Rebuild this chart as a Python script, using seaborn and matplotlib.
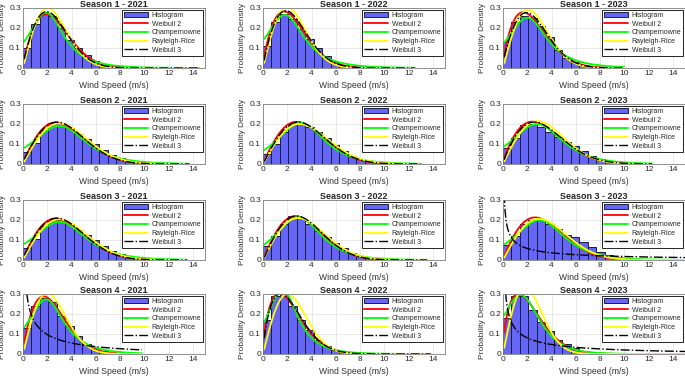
import numpy as np
import pandas as pd
import seaborn as sns
import matplotlib
matplotlib.use("Agg")
import matplotlib.pyplot as plt

sns.set_style("whitegrid")
plt.rcParams['font.family'] = ['Liberation Sans', 'DejaVu Sans']

seasons = [1, 2, 3, 4]
years = [2021, 2022, 2023]
bin_width = 0.7

# histogram bar heights (probability density), bins of 0.7 m/s from 0
hist_s1 = [
    [0.10, 0.22, 0.28, 0.26, 0.20, 0.14, 0.10, 0.063, 0.035, 0.02, 0.012, 0.007, 0.004, 0.003, 0.002, 0.001, 0.001, 0.001, 0.001, 0.001, 0.001],
    [0.108, 0.23, 0.27, 0.245, 0.197, 0.147, 0.10, 0.06, 0.03, 0.015, 0.009, 0.005, 0.003, 0.002, 0.001, 0.001, 0.001, 0.001],
    [0.13, 0.23, 0.26, 0.25, 0.21, 0.155, 0.09, 0.05, 0.03, 0.015, 0.008, 0.004, 0.002, 0.001, 0.001],
]
hist_s2 = [
    [0.06, 0.107, 0.17, 0.205, 0.205, 0.18, 0.15, 0.125, 0.10, 0.07, 0.045, 0.03, 0.018, 0.01, 0.006, 0.004, 0.002, 0.001, 0.001, 0.001],
    [0.05, 0.10, 0.16, 0.197, 0.20, 0.185, 0.16, 0.13, 0.095, 0.065, 0.04, 0.025, 0.013, 0.008, 0.005, 0.003, 0.002, 0.001, 0.001],
    [0.08, 0.13, 0.195, 0.20, 0.185, 0.16, 0.135, 0.11, 0.09, 0.065, 0.04, 0.025, 0.015, 0.008, 0.005, 0.003, 0.002, 0.001],
]
hist_s3 = [
    [0.06, 0.105, 0.17, 0.20, 0.20, 0.18, 0.15, 0.125, 0.10, 0.07, 0.045, 0.03, 0.018, 0.01, 0.006, 0.004, 0.002, 0.001, 0.001, 0.001],
    [0.07, 0.12, 0.18, 0.22, 0.21, 0.18, 0.145, 0.115, 0.085, 0.06, 0.035, 0.022, 0.012, 0.007, 0.004, 0.002, 0.001, 0.001, 0.001, 0.001],
    [0.075, 0.12, 0.18, 0.20, 0.20, 0.18, 0.155, 0.125, 0.115, 0.09, 0.065, 0.04, 0.025, 0.015, 0.008, 0.005, 0.003, 0.002, 0.001, 0.001, 0.001, 0.001],
]
hist_s4 = [
    [0.13, 0.24, 0.28, 0.26, 0.19, 0.14, 0.09, 0.05, 0.03, 0.015, 0.008, 0.004, 0.002, 0.001],
    [0.17, 0.29, 0.30, 0.24, 0.17, 0.12, 0.07, 0.04, 0.02, 0.01, 0.005, 0.003, 0.002, 0.001, 0.001, 0.001, 0.001, 0.001, 0.001, 0.001],
    [0.18, 0.29, 0.29, 0.22, 0.16, 0.115, 0.07, 0.05, 0.03, 0.015, 0.008, 0.004, 0.002, 0.001, 0.001, 0.001, 0.001, 0.001, 0.001, 0.001, 0.001, 0.001],
]
hists = [hist_s1, hist_s2, hist_s3, hist_s4]

# largest wind speed of each panel (curves end there)
x_max = [
    [14.5, 12.5, 10.0],
    [13.7, 13.0, 12.3],
    [13.5, 13.5, 15.5],
    [9.8, 13.8, 15.5],
]

# fitted parameters
weibull2 = [  # shape k, scale c
    [(1.8, 3.0), (1.75, 2.8), (1.7, 2.8)],
    [(1.9, 4.0), (1.95, 4.0), (1.8, 3.8)],
    [(1.9, 4.0), (1.95, 3.85), (1.9, 3.9)],
    [(1.75, 2.75), (1.6, 2.5), (1.55, 2.5)],
]
champernowne = [  # alpha, mode, lambda
    [(0.56, 1.9, -0.5), (0.52, 1.8, -0.5), (0.5, 2.0, -0.5)],
    [(0.52, 3.0, 0.0), (0.58, 3.1, 0.0), (0.54, 2.8, 0.0)],
    [(0.52, 3.0, 0.0), (0.6, 2.9, 0.0), (0.55, 3.0, 0.0)],
    [(0.55, 1.9, -0.5), (0.65, 1.6, -0.5), (0.73, 1.45, 0.0)],
]
rayleigh_rice = [  # nu, sigma
    [(0.5, 2.0), (0.5, 1.95), (0.8, 2.0)],
    [(1.0, 2.9), (1.0, 2.95), (1.2, 2.7)],
    [(1.0, 2.9), (1.0, 2.8), (1.3, 2.8)],
    [(0.6, 1.95), (0.4, 2.0), (0.3, 1.8)],
]
weibull3 = [  # shape k, scale c, location
    [(1.9, 2.95, -0.05), (1.85, 2.85, 0.0), (1.9, 3.0, -0.1)],
    [(2.0, 4.1, -0.1), (2.0, 4.1, 0.0), (1.85, 3.9, 0.0)],
    [(2.0, 4.1, -0.1), (2.0, 3.9, 0.0), (0.5, 20.0, 0.0)],
    [(0.6, 5.0, 0.0), (1.65, 2.55, 0.0), (0.55, 8.0, 0.0)],
]


def weibull_pdf(x, k, c, loc=0.0):
    z = np.clip((x - loc) / c, 1e-9, None)
    return (k / c) * z ** (k - 1) * np.exp(-z ** k)


def champernowne_pdf(x, a, m, lam):
    grid = np.linspace(0, 40, 4000)
    norm = np.trapezoid(1 / (np.cosh(a * (grid - m)) + lam), grid)
    return 1 / (np.cosh(a * (x - m)) + lam) / norm


def rice_pdf(x, nu, s):
    return x / s ** 2 * np.exp(-(x ** 2 + nu ** 2) / (2 * s ** 2)) * np.i0(x * nu / s ** 2)


fig = plt.figure(figsize=(6.85, 3.78), dpi=100)
W, H = 685.0, 378.0
tops = [8, 104, 200, 294]
lefts = [23, 263, 503]

for i, s in enumerate(seasons):
    for j, y in enumerate(years):
        ax = fig.add_axes([lefts[j] / W, 1 - (tops[i] + 60) / H, 182 / W, 60 / H])
        h = hists[i][j]
        edges = [k * bin_width for k in range(len(h) + 1)]
        hdf = pd.DataFrame({'speed': [e + bin_width / 2 for e in edges[:-1]], 'density': h})
        sns.histplot(data=hdf, x='speed', weights='density', bins=edges, stat='count', ax=ax,
                     color='#6565f8', alpha=1.0, edgecolor='#1c1c3a', linewidth=0.7,
                     label='Histogram')
        xs = np.linspace(0.1, x_max[i][j], 400)
        df = pd.DataFrame({
            'x': xs,
            'Weibull 2': weibull_pdf(xs, *weibull2[i][j]),
            'Champernowne': champernowne_pdf(xs, *champernowne[i][j]),
            'Rayleigh-Rice': rice_pdf(xs, *rayleigh_rice[i][j]),
            'Weibull 3': weibull_pdf(xs, *weibull3[i][j]),
        })
        sns.lineplot(data=df, x='x', y='Weibull 2', ax=ax, color='#ff0000', lw=1.3, label='Weibull 2', estimator=None)
        sns.lineplot(data=df, x='x', y='Champernowne', ax=ax, color='#00ff00', lw=1.3, label='Champernowne', estimator=None)
        sns.lineplot(data=df, x='x', y='Rayleigh-Rice', ax=ax, color='#ffff00', lw=1.3, label='Rayleigh-Rice', estimator=None)
        sns.lineplot(data=df, x='x', y='Weibull 3', ax=ax, color='black', lw=1.0, ls='-.', label='Weibull 3', estimator=None)

        ax.set_xlim(0, 15)
        ax.set_ylim(0, 0.3)
        ax.set_xticks(range(0, 15, 2))
        ax.set_yticks([0, 0.1, 0.2, 0.3])
        ax.set_yticklabels(['0', '0.1', '0.2', '0.3'])
        ax.tick_params(labelsize=6, pad=1.5, length=0)
        ax.grid(True, color='#e0e0e0', lw=0.5)
        for sp in ax.spines.values():
            sp.set_color('#7f7f7f')
            sp.set_linewidth(0.6)
        ax.set_title(f'Season {s} - {y}', fontsize=6.5, fontweight='bold', pad=1.0)
        ax.set_xlabel('Wind Speed (m/s)', fontsize=6.2, labelpad=3, color='#333333')
        ax.set_ylabel('Probability Density', fontsize=6, color='#333333')
        ax.yaxis.set_label_coords(-0.092, 0.5)
        handles, labels = ax.get_legend_handles_labels()
        order = [labels.index('Histogram')] + [k for k, l in enumerate(labels) if l != 'Histogram']
        leg = ax.legend([handles[k] for k in order], [labels[k] for k in order],
                        loc='upper right', fontsize=5, frameon=True, fancybox=False,
                        edgecolor='black', framealpha=1, borderpad=0.3, labelspacing=0.25,
                        handlelength=3.4, handletextpad=0.5, borderaxespad=0.25)
        leg.get_frame().set_linewidth(0.6)

fig.savefig('out.png', dpi=100)
